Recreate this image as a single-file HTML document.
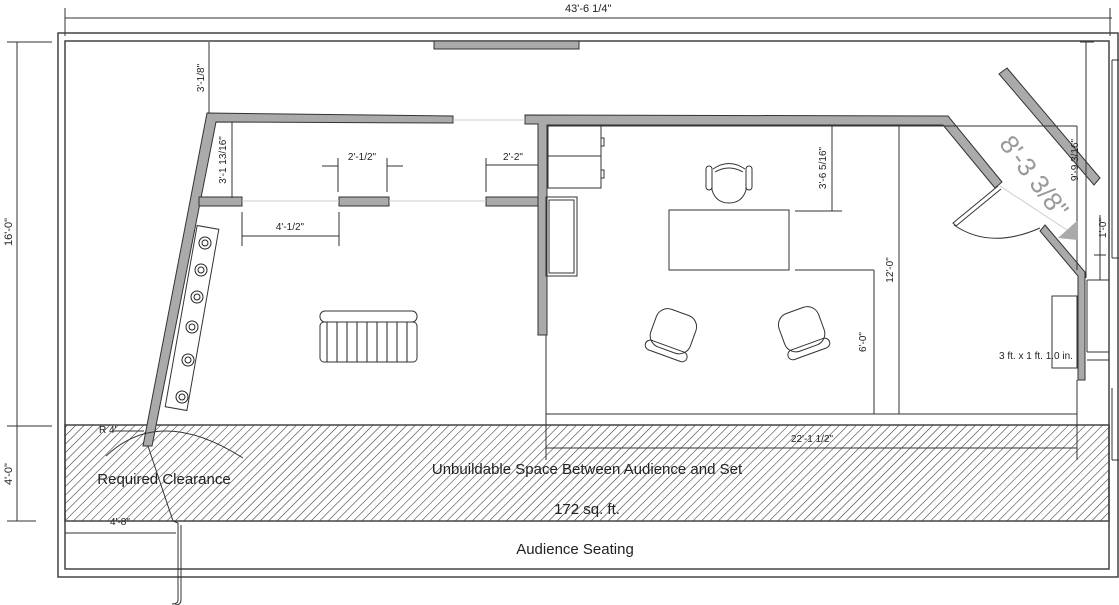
<!DOCTYPE html>
<html><head><meta charset="utf-8"><style>
html,body{margin:0;padding:0;background:#fff;width:1119px;height:605px;overflow:hidden}
text{font-family:"Liberation Sans",Arial,sans-serif;fill:#222}
</style></head><body>
<svg width="1119" height="605" viewBox="0 0 1119 605" xmlns="http://www.w3.org/2000/svg">
<defs>
<pattern id="h" width="6" height="6" patternUnits="userSpaceOnUse" patternTransform="rotate(45)">
<line x1="0" y1="0" x2="0" y2="6" stroke="#333" stroke-width="1.1"/>
</pattern>
</defs>
<!-- top dimension -->
<line x1="65" y1="18" x2="1112" y2="18" stroke="#333"/>
<line x1="65" y1="8" x2="65" y2="36" stroke="#333"/>
<line x1="1110" y1="8" x2="1110" y2="36" stroke="#333"/>
<text x="565" y="12" font-size="11">43'-6 1/4"</text>
<!-- outer rects -->
<rect x="58" y="33" width="1060" height="544" fill="none" stroke="#444" stroke-width="1.5"/>
<rect x="65" y="41" width="1044" height="528" fill="none" stroke="#444" stroke-width="1.5"/>
<!-- left dims -->
<line x1="17" y1="42" x2="17" y2="521" stroke="#333"/>
<line x1="7" y1="42" x2="52" y2="42" stroke="#333"/>
<line x1="7" y1="426" x2="52" y2="426" stroke="#333"/>
<line x1="7" y1="521" x2="36" y2="521" stroke="#333"/>
<text transform="translate(12,232) rotate(-90)" font-size="11" text-anchor="middle">16'-0"</text>
<text transform="translate(12,474) rotate(-90)" font-size="11" text-anchor="middle">4'-0"</text>
<!-- hatch -->
<rect x="65" y="425" width="1044" height="96" fill="url(#h)" stroke="#444" stroke-width="1.5"/>
<text x="164" y="484" font-size="15" text-anchor="middle">Required Clearance</text>
<text x="587" y="474" font-size="15" text-anchor="middle">Unbuildable Space Between Audience and Set</text>
<text x="587" y="514" font-size="15" text-anchor="middle">172 sq. ft.</text>
<text x="575" y="554" font-size="15" text-anchor="middle">Audience Seating</text>
<!-- top gray bar -->
<rect x="434" y="41" width="145" height="8" fill="#aaa" stroke="#333"/>
<!-- walls -->
<g fill="#aaa" stroke="#333" stroke-width="1">
<polygon points="207,113 453,116 453,123 216,122 152,446 143,446"/>
<polygon points="525,115 948,116 1002,182 995,188 943,125 547,125 547,335 538,335 538,124 525,124"/>
<polygon points="1007,68 1100,178 1094,185 999,74"/>
<polygon points="1045,225 1085,272 1085,380 1078,380 1078,276 1040,231"/>
<rect x="199" y="197" width="43" height="9"/>
<rect x="339" y="197" width="50" height="9"/>
<rect x="486" y="197" width="52" height="9"/>
</g>
<g stroke="#ccc" stroke-width="1">
<line x1="453" y1="120" x2="525" y2="120"/>
<line x1="242" y1="201" x2="339" y2="201"/>
<line x1="389" y1="201" x2="486" y2="201"/>
</g>
<!-- small dims -->
<g stroke="#333" stroke-width="1" fill="none">
<line x1="209" y1="42" x2="209" y2="113"/>
<line x1="232" y1="122" x2="232" y2="198"/>
<line x1="338" y1="158" x2="338" y2="192"/><line x1="387" y1="158" x2="387" y2="192"/>
<line x1="322" y1="166" x2="338" y2="166"/><line x1="387" y1="166" x2="403" y2="166"/>
<line x1="486" y1="158" x2="486" y2="192"/><line x1="486" y1="165" x2="538" y2="165"/>
<line x1="242" y1="212" x2="242" y2="246"/><line x1="339" y1="212" x2="339" y2="246"/>
<line x1="242" y1="236" x2="339" y2="236"/>
</g>
<text transform="translate(204,78) rotate(-90)" font-size="10" text-anchor="middle">3'-1/8"</text>
<text transform="translate(226,160) rotate(-90)" font-size="10" text-anchor="middle">3'-1 13/16"</text>
<text x="362" y="160" font-size="10" text-anchor="middle">2'-1/2"</text>
<text x="513" y="160" font-size="10" text-anchor="middle">2'-2"</text>
<text x="290" y="230" font-size="10" text-anchor="middle">4'-1/2"</text>
<!-- room -->
<g stroke="#333" fill="none" stroke-width="1">
<line x1="547" y1="126" x2="1077" y2="126"/>
<line x1="1077" y1="126" x2="1077" y2="270"/>
<line x1="1077" y1="380" x2="1077" y2="460"/>
<line x1="546" y1="414" x2="1077" y2="414"/>
<line x1="546" y1="335" x2="546" y2="460"/>
<line x1="546" y1="448" x2="1077" y2="448"/>
<line x1="899" y1="126" x2="899" y2="414"/>
<line x1="832" y1="126" x2="832" y2="211"/>
<line x1="795" y1="211" x2="842" y2="211"/>
<line x1="874" y1="270" x2="874" y2="414"/>
<line x1="795" y1="270" x2="874" y2="270"/>
<rect x="548" y="126" width="53" height="30"/><rect x="548" y="156" width="53" height="32"/>
<rect x="601" y="138" width="3" height="8"/><rect x="601" y="170" width="3" height="8"/>
<rect x="546" y="197" width="31" height="79"/><rect x="549" y="200" width="25" height="73"/>
<rect x="669" y="210" width="120" height="60"/>
<path d="M713,169 Q729,158 745,169" /><path d="M715,172 Q729,164 743,172"/>
<rect x="706" y="166" width="6" height="24" rx="3"/><rect x="746" y="166" width="6" height="24" rx="3"/>
<path d="M712,170 L712,190 Q716,203 729,203 Q742,203 746,190 L746,170"/>
<g transform="translate(672,335) rotate(20)"><rect x="-21" y="-24" width="42" height="40" rx="12"/><rect x="-22" y="12" width="44" height="10" rx="5"/></g>
<g transform="translate(803,333) rotate(-20)"><rect x="-21" y="-24" width="42" height="40" rx="12"/><rect x="-22" y="12" width="44" height="10" rx="5"/></g>
<line x1="1086" y1="42" x2="1086" y2="278"/>
<line x1="1080" y1="42" x2="1094" y2="42"/>
<line x1="1100" y1="215" x2="1100" y2="280"/>
<line x1="1094" y1="255" x2="1106" y2="255"/>
<rect x="1052" y="296" width="25" height="72"/>
<line x1="1087" y1="280" x2="1109" y2="280"/><line x1="1087" y1="352" x2="1109" y2="352"/>
<line x1="1087" y1="360" x2="1109" y2="360"/><line x1="1087" y1="280" x2="1087" y2="352"/>
<line x1="1112" y1="60" x2="1119" y2="60"/><line x1="1112" y1="60" x2="1112" y2="258"/>
<line x1="1112" y1="258" x2="1119" y2="258"/><line x1="1112" y1="388" x2="1112" y2="460"/>
<line x1="1112" y1="460" x2="1119" y2="460"/>
<path d="M998,186 L953,223 L956,226 L1001,189"/>
<path d="M954,225 Q990,250 1040,228"/>
<rect x="320" y="311" width="97" height="11" rx="5"/>
<rect x="320" y="322" width="97" height="40" rx="4"/>
<g transform="translate(192,318) rotate(10)">
<rect x="-11" y="-92" width="22" height="184"/>
</g>
<path d="M106,456 Q160,405 243,458"/>
<line x1="148" y1="446" x2="173" y2="521"/>
<line x1="65" y1="533" x2="176" y2="533"/>
<path d="M173,521 L178,523 L178,600 Q178,604 172,604"/>
<path d="M181,525 L181,600 Q181,605 175,605"/>
<line x1="112" y1="431" x2="144" y2="431"/>
</g>
<g stroke="#222" fill="none" stroke-width="1">
<line x1="327" y1="322" x2="327" y2="362"/><line x1="337" y1="322" x2="337" y2="362"/><line x1="347" y1="322" x2="347" y2="362"/><line x1="357" y1="322" x2="357" y2="362"/><line x1="367" y1="322" x2="367" y2="362"/><line x1="377" y1="322" x2="377" y2="362"/><line x1="387" y1="322" x2="387" y2="362"/><line x1="397" y1="322" x2="397" y2="362"/><line x1="407" y1="322" x2="407" y2="362"/>
<circle cx="205" cy="243" r="6"/><circle cx="201" cy="270" r="6"/><circle cx="197" cy="297" r="6"/><circle cx="192" cy="327" r="6"/><circle cx="188" cy="360" r="6"/><circle cx="182" cy="397" r="6"/>
<circle cx="205" cy="243" r="3"/><circle cx="201" cy="270" r="3"/><circle cx="197" cy="297" r="3"/><circle cx="192" cy="327" r="3"/><circle cx="188" cy="360" r="3"/><circle cx="182" cy="397" r="3"/>
</g>
<line x1="1000" y1="186" x2="1070" y2="232" stroke="#ccc"/>
<polygon points="1058,238 1078,220 1078,240" fill="#aaa"/>
<text transform="translate(1027,182) rotate(53)" font-size="26" style="fill:#999" text-anchor="middle">8'-3 3/8"</text>
<text transform="translate(1078,160) rotate(-90)" font-size="10" text-anchor="middle">9'-9 3/16"</text>
<text transform="translate(1106,228) rotate(-90)" font-size="10" text-anchor="middle">1'-0"</text>
<text transform="translate(826,168) rotate(-90)" font-size="10" text-anchor="middle">3'-6 5/16"</text>
<text transform="translate(893,270) rotate(-90)" font-size="10" text-anchor="middle">12'-0"</text>
<text transform="translate(866,342) rotate(-90)" font-size="10" text-anchor="middle">6'-0"</text>
<text x="812" y="442" font-size="10" text-anchor="middle">22'-1 1/2"</text>
<text x="1036" y="359" font-size="10" text-anchor="middle">3 ft. x 1 ft. 1.0 in.</text>
<text x="99" y="433" font-size="10">R 4'</text>
<text x="110" y="525" font-size="10">4'-8"</text>
</svg>
</body></html>
